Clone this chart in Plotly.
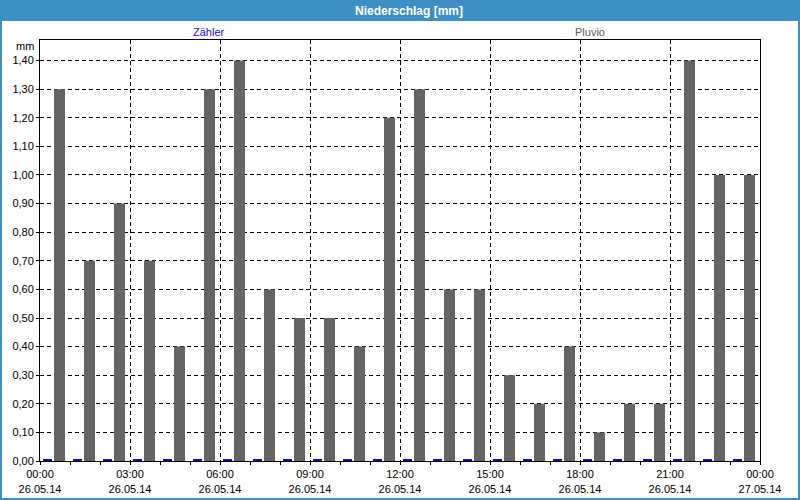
import plotly.graph_objects as go
import pandas as pd

# ---- data ----
hours = pd.date_range("2014-05-26 00:00", periods=24, freq="h")
pluvio = [1.30, 0.70, 0.90, 0.70, 0.40, 1.30, 1.40, 0.60, 0.50, 0.50, 0.40, 1.20,
          1.30, 0.60, 0.60, 0.30, 0.20, 0.40, 0.10, 0.20, 0.20, 1.40, 1.00, 1.00]
zaehler = [0.006, 0.006, 0.006, 0.006, 0.006, 0.006, 0.006, 0.006, 0.006, 0.006, 0.006, 0.006,
           0.006, 0.006, 0.006, 0.006, 0.006, 0.006, 0.006, 0.006, 0.006, 0.006, 0.006, 0.006]
series_names = ["Zähler", "Pluvio"]
title_text = "Niederschlag [mm]"
unit_text = "mm"

H = 3600000  # one hour in ms
W, Hh = 800, 500
L, R, T, B = 40, 40, 40, 39
pw, ph = W - L - R, Hh - T - B


def px(x):
    return (x - L) / pw


def py(y):
    return (Hh - B - y) / ph


FONT = "Liberation Sans, Arial, sans-serif"

fig = go.Figure()
fig.add_trace(go.Bar(x=hours, y=zaehler, name=series_names[0], offset=0.1 * H, width=0.3 * H,
                     marker=dict(color="#10109a", line=dict(width=0))))
fig.add_trace(go.Bar(x=hours, y=pluvio, name=series_names[1], offset=0.467 * H, width=0.367 * H,
                     marker=dict(color="#656365", line=dict(width=0))))

shapes = [
    # title bar
    dict(type="rect", xref="paper", yref="paper", x0=px(0), x1=px(800), y0=py(21), y1=py(0),
         fillcolor="#3d8fc6", line=dict(width=0), layer="below"),
    # window borders
    dict(type="rect", xref="paper", yref="paper", x0=px(0), x1=px(2), y0=py(500), y1=py(0),
         fillcolor="#3d8fc6", line=dict(width=0), layer="below"),
    dict(type="rect", xref="paper", yref="paper", x0=px(798), x1=px(800), y0=py(500), y1=py(0),
         fillcolor="#3d8fc6", line=dict(width=0), layer="below"),
    dict(type="rect", xref="paper", yref="paper", x0=px(0), x1=px(800), y0=py(500), y1=py(498),
         fillcolor="#3d8fc6", line=dict(width=0), layer="below"),
]

annotations = [
    dict(text="<b>" + title_text + "</b>", xref="paper", yref="paper", x=px(409), y=py(11),
         showarrow=False, font=dict(family=FONT, size=12, color="white"), xanchor="center", yanchor="middle"),
    dict(text=series_names[0], xref="paper", yref="paper", x=px(209), y=py(32),
         showarrow=False, font=dict(family=FONT, size=11, color="#1414c8"), xanchor="center", yanchor="middle"),
    dict(text=series_names[1], xref="paper", yref="paper", x=px(590), y=py(32),
         showarrow=False, font=dict(family=FONT, size=11, color="#606060"), xanchor="center", yanchor="middle"),
    dict(text=unit_text, xref="paper", yref="paper", x=px(36), y=py(46),
         showarrow=False, font=dict(family=FONT, size=11, color="black"), xanchor="right", yanchor="middle"),
]

fig.update_layout(
    width=W, height=Hh,
    margin=dict(l=L, r=R, t=T, b=B, pad=0),
    paper_bgcolor="#fcfdfc",
    plot_bgcolor="white",
    separators=",.",
    showlegend=False,
    barmode="overlay",
    shapes=shapes,
    annotations=annotations,
    font=dict(family=FONT, size=11, color="black"),
    xaxis=dict(
        type="date",
        range=["2014-05-26 00:00", "2014-05-27 00:00"],
        dtick=3 * H,
        tick0="2014-05-26 00:00",
        tickformat="%H:%M<br>%d.%m.%y",
        showgrid=True, gridcolor="black", gridwidth=1, griddash="4px,3px",
        showline=True, linecolor="black", linewidth=1, mirror=True,
        ticks="outside", ticklen=3, tickcolor="black",
        minor=dict(dtick=H, ticks="outside", ticklen=3, tickcolor="black", showgrid=False),
        tickfont=dict(family=FONT, size=11, color="black"),
        automargin=False,
        fixedrange=True,
    ),
    yaxis=dict(
        range=[0, 1.472],
        dtick=0.1, tick0=0,
        tickformat=".2f",
        showgrid=True, gridcolor="black", gridwidth=1, griddash="4px,3px",
        zeroline=False,
        showline=True, linecolor="black", linewidth=1, mirror=True,
        ticks="outside", ticklen=3, tickcolor="black",
        tickfont=dict(family=FONT, size=11, color="black"),
        automargin=False,
        fixedrange=True,
    ),
)

fig.write_html("out.html", config={"displayModeBar": False},
               post_script="document.body.style.margin='0';document.body.style.overflow='hidden';")
